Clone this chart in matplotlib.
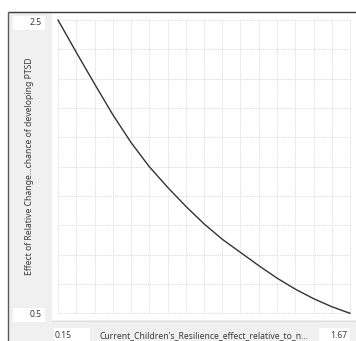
import numpy as np
import matplotlib
matplotlib.use("Agg")
import matplotlib.pyplot as plt
from matplotlib.patches import Rectangle

# graphical function
x_vals = [0.15, 0.245, 0.34, 0.435, 0.53, 0.625, 0.72, 0.815, 0.91,
          1.005, 1.10, 1.195, 1.29, 1.385, 1.48, 1.575, 1.67]
y_vals = [2.50, 2.28, 2.065, 1.855, 1.665, 1.50, 1.36, 1.23, 1.11,
          1.005, 0.915, 0.825, 0.74, 0.665, 0.60, 0.545, 0.50]

x_min_label = "0.15"
x_max_label = "1.67"
y_min_label = "0.5"
y_max_label = "2.5"
x_title = "Current_Children's_Resilience_effect_relative_to_n..."
y_title = "Effect of Relative Change...chance of developing PTSD"

W, H = 356, 341
plt.rcParams['font.family'] = ['Noto Sans', 'DejaVu Sans']
fig = plt.figure(figsize=(W / 100, H / 100), dpi=100)
fig.patch.set_facecolor("white")

# background / frame drawn in pixel coords
bg = fig.add_axes([0, 0, 1, 1])
bg.set_xlim(0, W)
bg.set_ylim(H, 0)
bg.axis("off")

bg.add_patch(Rectangle((8.5, 12.5), W, H, facecolor="#f0f0f0", edgecolor="none"))
bg.add_patch(Rectangle((52, 13), W - 52, 307, facecolor="white", edgecolor="none"))
bg.plot([52, W], [320.5, 320.5], color="#dedede", lw=0.8)
bg.plot([8, W], [12, 12], color="#3c3c3c", lw=1.0, solid_capstyle="butt")
bg.plot([8, 8], [12, H], color="#5a5a5a", lw=1.0, solid_capstyle="butt")

# value boxes
for (bx, by, bw, bh) in [(12, 15, 33, 15), (12, 307, 33, 15),
                         (53, 327, 37, 16), (318, 327, 32, 16)]:
    bg.add_patch(Rectangle((bx, by), bw, bh, facecolor="white", edgecolor="#ececec", lw=0.5))

fs = 6.2
tc = "#3a3a3a"
bg.text(42, 22.5, y_max_label, ha="right", va="center", fontsize=fs, color=tc)
bg.text(42, 314.5, y_min_label, ha="right", va="center", fontsize=fs, color=tc)
bg.text(55, 335.5, x_min_label, ha="left", va="center", fontsize=fs, color=tc)
bg.text(347, 335.5, x_max_label, ha="right", va="center", fontsize=fs, color=tc)
bg.text(100, 335.5, x_title, ha="left", va="center", fontsize=fs, color=tc)
bg.text(30, 166, y_title, ha="center", va="center", rotation=90, fontsize=fs, color=tc)

# plot area
left, right, top, bottom = 58, 350, 20, 313.3
ax = fig.add_axes([left / W, (H - bottom) / H, (right - left) / W, (bottom - top) / H])
ax.set_facecolor("none")
ax.set_xlim(x_vals[0], x_vals[-1])
ax.set_ylim(y_vals[-1], y_vals[0])
for s in ax.spines.values():
    s.set_visible(False)
ax.set_xticks(np.linspace(x_vals[0], x_vals[-1], 17))
ax.set_yticks(np.linspace(y_vals[-1], y_vals[0], 11))
ax.tick_params(length=0, labelbottom=False, labelleft=False)
ax.grid(True, color="#dadada", lw=0.7, ls=(0, (1, 1)))
for gl in ax.get_xgridlines() + ax.get_ygridlines():
    gl.set_clip_on(False)

ax.plot(x_vals, y_vals, color="#333333", lw=1.0, clip_on=False)

fig.savefig("out.png", dpi=100)
